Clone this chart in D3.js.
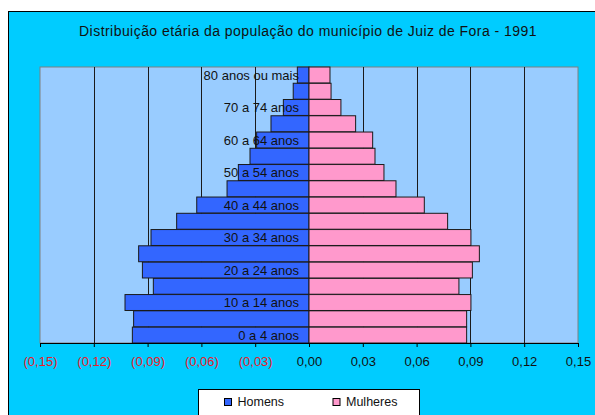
<!DOCTYPE html>
<html>
<head>
<meta charset="utf-8">
<script src="https://cdn.jsdelivr.net/npm/d3@7"></script>
<style>
  body { margin: 0; background: #fff; }
  svg { display: block; font-family: "Liberation Sans", Arial, sans-serif; }
</style>
</head>
<body>
<svg id="chart"></svg>
<script>
var ageGroups = ['0 a 4 anos', '5 a 9 anos', '10 a 14 anos', '15 a 19 anos', '20 a 24 anos',
  '25 a 29 anos', '30 a 34 anos', '35 a 39 anos', '40 a 44 anos', '45 a 49 anos',
  '50 a 54 anos', '55 a 59 anos', '60 a 64 anos', '65 a 69 anos', '70 a 74 anos',
  '75 a 79 anos', '80 anos ou mais'];
var homens = [-0.0985, -0.0978, -0.1026, -0.0868, -0.0929, -0.0950, -0.0881, -0.0738, -0.0626,
  -0.0457, -0.0394, -0.0329, -0.0292, -0.0212, -0.0143, -0.0088, -0.0065];
var mulheres = [0.0879, 0.0879, 0.0903, 0.0836, 0.0911, 0.0950, 0.0903, 0.0773, 0.0643,
  0.0485, 0.0418, 0.0368, 0.0355, 0.0260, 0.0178, 0.0123, 0.0117];
var ticks = [-0.15, -0.12, -0.09, -0.06, -0.03, 0, 0.03, 0.06, 0.09, 0.12, 0.15];
var seriesNames = ['Homens', 'Mulheres'];
var seriesColors = ['#3366FF', '#FF99CC'];

var width = 595, height = 415;
var plot = {left: 40, right: 578, top: 67, bottom: 343};

var svg = d3.select('#chart')
  .attr('width', width)
  .attr('height', height);

// chart area
svg.append('rect')
  .attr('x', 8.5).attr('y', 11.5)
  .attr('width', width).attr('height', height)
  .attr('fill', '#00CCFF')
  .attr('stroke', '#000');

svg.append('text')
  .attr('x', 308).attr('y', 36)
  .attr('text-anchor', 'middle')
  .style('font-size', '14px')
  .style('letter-spacing', '0.45px')
  .attr('fill', '#111')
  .text('Distribuição etária da população do município de Juiz de Fora - 1991');

var x = d3.scaleLinear()
  .domain([-0.15, 0.15])
  .range([plot.left, plot.right]);
var y = d3.scaleBand()
  .domain(ageGroups)
  .range([plot.bottom, plot.top])
  .paddingInner(0.02);

svg.append('rect')
  .attr('x', plot.left).attr('y', plot.top)
  .attr('width', plot.right - plot.left).attr('height', plot.bottom - plot.top)
  .attr('fill', '#99CCFF')
  .attr('stroke', '#808080');

// gridlines
svg.append('g')
  .selectAll('line')
  .data(ticks.filter(t => t !== -0.15 && t !== 0.15 && t !== 0))
  .enter()
  .append('line')
    .attr('x1', d => Math.round(x(d)) + 0.5)
    .attr('x2', d => Math.round(x(d)) + 0.5)
    .attr('y1', plot.top)
    .attr('y2', plot.bottom)
    .attr('stroke', '#1a1a1a');

var rows = ageGroups.map((g, i) => ({g: g, h: homens[i], m: mulheres[i]}));

svg.append('g').selectAll('rect')
  .data(rows)
  .enter()
  .append('rect')
    .attr('x', d => x(d.h))
    .attr('y', d => y(d.g))
    .attr('width', d => x(0) - x(d.h))
    .attr('height', y.bandwidth())
    .attr('fill', seriesColors[0])
    .attr('stroke', '#1a1a1a');

svg.append('g').selectAll('rect')
  .data(rows)
  .enter()
  .append('rect')
    .attr('x', x(0))
    .attr('y', d => y(d.g))
    .attr('width', d => x(d.m) - x(0))
    .attr('height', y.bandwidth())
    .attr('fill', seriesColors[1])
    .attr('stroke', '#1a1a1a');

// category labels, every other one
svg.append('g').selectAll('text')
  .data(ageGroups.filter((g, i) => i % 2 === 0))
  .enter()
  .append('text')
    .attr('x', x(0) - 10)
    .attr('y', d => y(d) + y.bandwidth() / 2)
    .attr('dy', '0.35em')
    .attr('text-anchor', 'end')
    .style('font-size', '13px')
    .attr('fill', '#111')
    .text(d => d);

// x axis
var fmt = d3.format('.2f');
var xAxis = d3.axisBottom(x)
  .tickValues(ticks)
  .tickSize(4)
  .tickSizeOuter(0)
  .tickFormat(d => {
    var s = fmt(Math.abs(d)).replace('.', ',');
    return d < -1e-9 ? '(' + s + ')' : s;
  });

var ax = svg.append('g')
  .attr('transform', 'translate(0,' + plot.bottom + ')')
  .call(xAxis);
ax.select('.domain').attr('stroke', '#000');
ax.selectAll('.tick line').attr('stroke', '#000');
ax.selectAll('.tick text')
  .attr('y', 14)
  .style('font-size', '13px')
  .style('font-family', '"Liberation Sans", Arial, sans-serif')
  .attr('fill', d => d < -1e-9 ? '#E8202A' : '#111');

// legend
var lg = svg.append('g');
lg.append('rect')
  .attr('x', 198.5).attr('y', 389.5)
  .attr('width', 221).attr('height', 30)
  .attr('fill', '#fff')
  .attr('stroke', '#000');
var legendX = [224, 332.5];
seriesNames.forEach((name, i) => {
  lg.append('rect')
    .attr('x', legendX[i] + 0.5).attr('y', 398.5)
    .attr('width', 7).attr('height', 7)
    .attr('fill', seriesColors[i])
    .attr('stroke', '#000');
  lg.append('text')
    .attr('x', legendX[i] + 13.5).attr('y', 405.5)
    .style('font-size', '12.5px')
    .attr('fill', '#111')
    .text(name);
});
</script>
</body>
</html>
